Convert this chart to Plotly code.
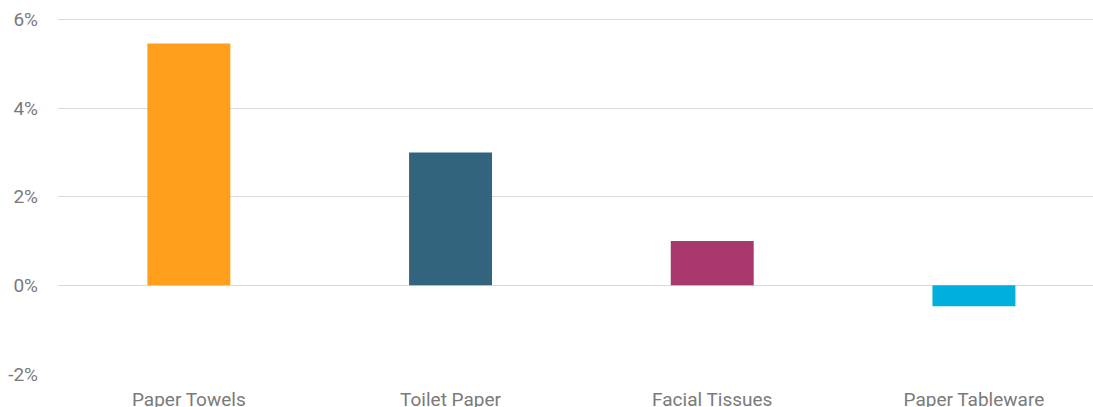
import plotly.graph_objects as go

# Year-over-year change by paper product category (percent)
categories = ["Paper Towels", "Toilet Paper", "Facial Tissues", "Paper Tableware"]
change_pct = [5.46, 3.0, 1.0, -0.47]
bar_colors = ["#FF9F1C", "#32647E", "#A9386C", "#00AFDB"]

y_ticks = [-2, 0, 2, 4, 6]
y_tick_labels = ["-2%", "0%", "2%", "4%", "6%"]

fig = go.Figure(
    go.Bar(
        x=categories,
        y=change_pct,
        marker=dict(color=bar_colors, line=dict(width=0)),
        hovertemplate="%{x}: %{y:.1f}%<extra></extra>",
    )
)

fig.update_layout(
    width=1093,
    height=407,
    margin=dict(l=58, r=0, t=0, b=33),
    paper_bgcolor="white",
    plot_bgcolor="white",
    bargap=0.683,
    showlegend=False,
    font=dict(family="Roboto, Open Sans, sans-serif", size=19, color="#7A7A7A"),
)

fig.update_xaxes(
    type="category",
    range=[-0.5, 3.455],
    automargin=False,
    showgrid=False,
    showline=False,
    zeroline=False,
    ticks="",
    ticklabelstandoff=12,
    tickfont=dict(size=19, color="#7A7A7A"),
)

fig.update_yaxes(
    range=[-2, 6.44],
    automargin=False,
    tickvals=y_ticks,
    ticktext=y_tick_labels,
    showgrid=True,
    gridcolor="#D9D9D9",
    gridwidth=1,
    zeroline=True,
    zerolinecolor="#D9D9D9",
    zerolinewidth=1,
    showline=False,
    ticks="",
    ticklabelstandoff=19,
    tickfont=dict(size=19, color="#7A7A7A"),
)

fig.write_html("out.html")
